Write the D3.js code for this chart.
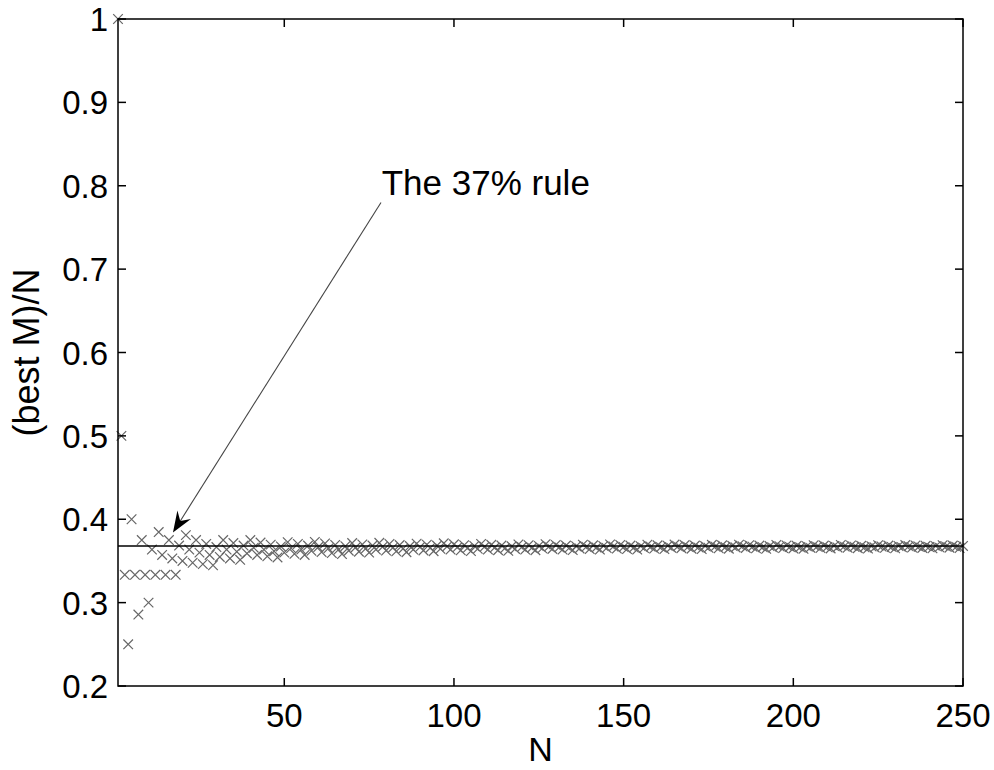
<!DOCTYPE html>
<html>
<head>
<meta charset="utf-8">
<script src="https://cdn.jsdelivr.net/npm/d3@7/dist/d3.min.js"></script>
<style>
  html, body { margin: 0; padding: 0; background: #fff; }
  svg { display: block; }
  text { font-family: "Liberation Sans", Arial, Helvetica, sans-serif; fill: #000; }
</style>
</head>
<body>
<svg id="chart" width="994" height="770"></svg>
<script>
// ---- data ----
// best M for N = 1..250 (the plotted value is bestM / N)
const bestM = [
  1,
  1,1,1, 2,2,2, 3,3,3, 4,4, 5,5,5, 6,6,6, 7,7, 8,8,8, 9,9,9, 10,10,10,
  11,11, 12,12,12, 13,13,13, 14,14, 15,15,15, 16,16,16, 17,17,17, 18,18,
  19,19,19, 20,20,20, 21,21, 22,22,22, 23,23,23, 24,24,24, 25,25,
  26,26,26, 27,27,27, 28,28, 29,29,29, 30,30,30, 31,31,31, 32,32,
  33,33,33, 34,34,34, 35,35, 36,36,36, 37,37,37, 38,38,38, 39,39,
  40,40,40, 41,41,41, 42,42,42, 43,43, 44,44,44, 45,45,45, 46,46,
  47,47,47, 48,48,48, 49,49,49, 50,50, 51,51,51, 52,52,52, 53,53,
  54,54,54, 55,55,55, 56,56,56, 57,57, 58,58,58, 59,59,59, 60,60,
  61,61,61, 62,62,62, 63,63,63, 64,64, 65,65,65, 66,66,66, 67,67,
  68,68,68, 69,69,69, 70,70,70, 71,71, 72,72,72, 73,73,73, 74,74,74, 75,75,
  76,76,76, 77,77,77, 78,78, 79,79,79, 80,80,80, 81,81,81, 82,82,
  83,83,83, 84,84,84, 85,85, 86,86,86, 87,87,87, 88,88,88, 89,89,
  90,90,90, 91,91,91, 92
];
const ruleValue = 0.3679;           // horizontal reference line (1/e)
const xTicks = [50, 100, 150, 200, 250];
const yTicks = [0.2, 0.3, 0.4, 0.5, 0.6, 0.7, 0.8, 0.9, 1];
const yTickLabels = ["0.2", "0.3", "0.4", "0.5", "0.6", "0.7", "0.8", "0.9", "1"];
const xLabel = "N";
const yLabel = "(best M)/N";
const annotationText = "The 37% rule";
const annotationTextAt = [78.7, 0.789];
const annotationFrom = [78.5, 0.78];
const annotationTip = [17.2, 0.384];

const points = bestM.map((m, i) => ({ n: i + 1, v: m / (i + 1) }));

// ---- layout ----
const L = 118, R = 963, T = 19, B = 686;
const svg = d3.select("#chart");
const x = d3.scaleLinear().domain([1, 250]).range([L, R]);
const y = d3.scaleLinear().domain([0.2, 1]).range([B, T]);

// markers
const s = 4.8;
svg.append("g")
  .selectAll("path")
  .data(points)
  .join("path")
  .attr("transform", d => `translate(${x(d.n)},${y(d.v)})`)
  .attr("d", `M${-s},${-s}L${s},${s}M${-s},${s}L${s},${-s}`)
  .attr("stroke", "#666")
  .attr("stroke-width", 1.2)
  .attr("fill", "none");

// reference line
svg.append("line")
  .attr("x1", x(1)).attr("x2", x(250))
  .attr("y1", y(ruleValue)).attr("y2", y(ruleValue))
  .attr("stroke", "#000").attr("stroke-width", 1.6);

// axes box with inward ticks on all sides
const tl = 8;
const axisG = svg.append("g").attr("stroke", "#000").attr("stroke-width", 1.5);
axisG.append("rect")
  .attr("x", L).attr("y", T).attr("width", R - L).attr("height", B - T)
  .attr("fill", "none");
xTicks.forEach(t => {
  axisG.append("line").attr("x1", x(t)).attr("x2", x(t)).attr("y1", B).attr("y2", B - tl);
  axisG.append("line").attr("x1", x(t)).attr("x2", x(t)).attr("y1", T).attr("y2", T + tl);
});
yTicks.forEach(t => {
  axisG.append("line").attr("x1", L).attr("x2", L + tl).attr("y1", y(t)).attr("y2", y(t));
  axisG.append("line").attr("x1", R).attr("x2", R - tl).attr("y1", y(t)).attr("y2", y(t));
});

// tick labels
svg.append("g").selectAll("text")
  .data(xTicks).join("text")
  .attr("x", d => x(d)).attr("y", B + 41)
  .attr("text-anchor", "middle")
  .attr("font-size", 33)
  .text(d => d);
svg.append("g").selectAll("text")
  .data(yTicks).join("text")
  .attr("x", L - 10).attr("y", d => y(d) + 12)
  .attr("text-anchor", "end")
  .attr("font-size", 33)
  .text((d, i) => yTickLabels[i]);

// axis titles
svg.append("text")
  .attr("x", (L + R) / 2).attr("y", 761)
  .attr("text-anchor", "middle")
  .attr("font-size", 34)
  .text(xLabel);
svg.append("text")
  .attr("transform", `translate(39,${(T + B) / 2}) rotate(-90)`)
  .attr("text-anchor", "middle")
  .attr("font-size", 36)
  .text(yLabel);

// annotation
const ax0 = x(annotationFrom[0]), ay0 = y(annotationFrom[1]);
const ax1 = x(annotationTip[0]), ay1 = y(annotationTip[1]);
const dx = ax1 - ax0, dy = ay1 - ay0, len = Math.hypot(dx, dy);
const ux = dx / len, uy = dy / len, nx = -uy, ny = ux;
const hl = 21, hw = 8;
svg.append("line")
  .attr("x1", ax0).attr("y1", ay0)
  .attr("x2", ax1 - ux * hl * 0.6).attr("y2", ay1 - uy * hl * 0.6)
  .attr("stroke", "#444").attr("stroke-width", 1.1);
const bx = ax1 - ux * hl, by = ay1 - uy * hl;
svg.append("path")
  .attr("d", `M${ax1},${ay1}L${bx + nx * hw},${by + ny * hw}L${ax1 - ux * hl * 0.65},${ay1 - uy * hl * 0.65}L${bx - nx * hw},${by - ny * hw}Z`)
  .attr("fill", "#000");
svg.append("text")
  .attr("x", x(annotationTextAt[0])).attr("y", y(annotationTextAt[1]))
  .attr("font-size", 35)
  .text(annotationText);
</script>
</body>
</html>
